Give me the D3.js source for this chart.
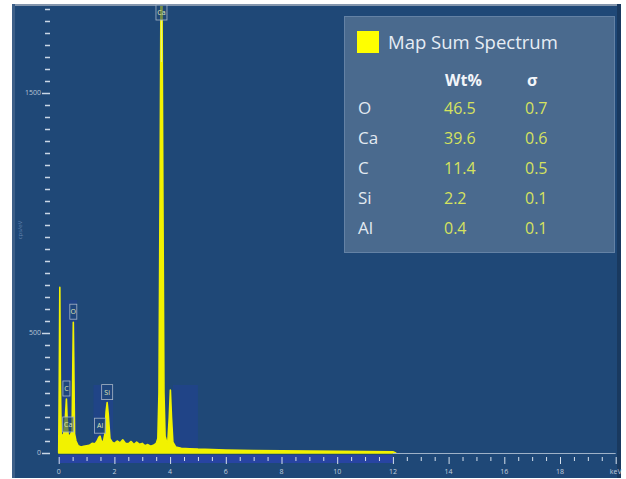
<!DOCTYPE html>
<html>
<head>
<meta charset="utf-8">
<script src="https://cdn.jsdelivr.net/npm/d3@7"></script>
<style>
	body { margin: 0; background: #fff; }
	text { font-family: "Open Sans", "Noto Sans", sans-serif; }
</style>
</head>
<body>
<div id="chart"></div>
<script>
// spectrum: energy (keV) and counts
const energy = [0, 0.02, 0.04, 0.06, 0.09, 0.12, 0.18, 0.24, 0.277, 0.31, 0.341, 0.38, 0.44,
	0.48, 0.51, 0.525, 0.54, 0.57, 0.62, 0.70, 0.80, 0.90, 1.00, 1.10, 1.20, 1.30, 1.38, 1.44,
	1.486, 1.53, 1.60, 1.66, 1.70, 1.74, 1.78, 1.84, 1.92, 2.00, 2.10, 2.20, 2.30, 2.40, 2.50,
	2.60, 2.70, 2.80, 2.90, 3.00, 3.10, 3.20, 3.30, 3.40, 3.50, 3.56, 3.60, 3.64, 3.69, 3.74,
	3.78, 3.82, 3.88, 3.92, 3.97, 4.01, 4.05, 4.10, 4.20, 4.40, 4.70, 5.00, 5.50, 6.00, 6.50,
	7.00, 8.00, 9.00, 10.0, 11.0, 12.0, 12.1];
const counts = [0, 300, 690, 300, 80, 70, 80, 150, 225, 120, 75, 70, 80,
	90, 400, 545, 400, 80, 50, 30, 25, 28, 30, 32, 40, 38, 50, 65,
	70, 50, 45, 80, 170, 210, 160, 60, 45, 40, 50, 42, 55, 40, 38,
	48, 35, 45, 36, 40, 30, 35, 28, 32, 40, 60, 250, 1100, 2400, 1100,
	250, 70, 45, 50, 150, 262, 150, 45, 25, 20, 18, 16, 14, 12, 11,
	10, 9, 8, 7, 6, 5, 0];

// peak labels
const peakNames = ["Ca", "O", "C", "Ca", "Si", "Al"];
const peakEnergy = [3.69, 0.525, 0.277, 0.341, 1.74, 1.486];
const peakCounts = [2400, 545, 225, 75, 210, 70];

// axis ticks
const xLabelValues = [0, 2, 4, 6, 8, 10, 12, 14, 16, 18, 20];
const yLabelValues = [0, 500, 1500];

// quant table
const legendTitle = "Map Sum Spectrum";
const elements = ["O", "Ca", "C", "Si", "Al"];
const wtPct = ["46.5", "39.6", "11.4", "2.2", "0.4"];
const sigma = ["0.7", "0.6", "0.5", "0.1", "0.1"];

const width = 626, height = 479;
const bg = "#1f4877";
const yellow = "#f2f200";

const svg = d3.select("#chart").append("svg")
	.attr("width", width)
	.attr("height", height);

//Panel
svg.append("rect")
	.attr("x", 12).attr("y", 4)
	.attr("width", 609).attr("height", 474)
	.attr("fill", bg);
svg.append("rect")
	.attr("x", 12).attr("y", 4)
	.attr("width", 609).attr("height", 2)
	.attr("fill", "#8496ad");
svg.append("rect")
	.attr("x", 12).attr("y", 4)
	.attr("width", 3).attr("height", 474)
	.attr("fill", "#3d5f88");
svg.append("rect")
	.attr("x", 617).attr("y", 4)
	.attr("width", 4).attr("height", 474)
	.attr("fill", "#19395f");

//Scales
const x = d3.scaleLinear().domain([0, 20]).range([58.7, 615.7]);
const y = d3.scaleLinear().domain([0, 500]).range([453, 333]);

svg.append("clipPath").attr("id", "plotClip")
	.append("rect")
	.attr("x", 50).attr("y", 6)
	.attr("width", 566).attr("height", 454);

const plot = svg.append("g").attr("clip-path", "url(#plotClip)");

//Element marker bands
const bands = [[0.12, 0.66, 300], [1.25, 1.95, 385], [4.1, 5.0, 385]];
plot.selectAll("rect.band")
	.data(bands)
	.enter()
	.append("rect")
	.attr("class", "band")
	.attr("x", d => x(d[0]))
	.attr("y", d => d[2])
	.attr("width", d => x(d[1]) - x(d[0]))
	.attr("height", d => 453 - d[2])
	.attr("fill", "#2436c4")
	.attr("opacity", 0.22);

//Axis strip under the spectrum
svg.append("rect")
	.attr("x", x(0)).attr("y", 455)
	.attr("width", x(12) - x(0)).attr("height", 8)
	.attr("fill", "#2a43ad")
	.attr("opacity", 0.8);
svg.append("line")
	.attr("x1", x(12)).attr("x2", x(20))
	.attr("y1", 453.5).attr("y2", 453.5)
	.attr("stroke", "#9fb2c8")
	.attr("stroke-width", 1);

//Spectrum
const spectrum = energy.map((e, i) => ({e: e, c: counts[i]}));
const area = d3.area()
	.x(d => x(d.e))
	.y0(y(0))
	.y1(d => y(d.c));

plot.append("path")
	.datum(spectrum)
	.attr("d", area)
	.attr("fill", yellow)
	.attr("stroke", yellow)
	.attr("stroke-width", 1.6)
	.attr("stroke-linejoin", "round");

//X axis
const xAxis = d3.axisBottom(x)
	.tickValues(d3.range(0, 41).map(d => d / 2))
	.tickSize(5)
	.tickFormat("");
const xg = svg.append("g")
	.attr("transform", "translate(0,457)")
	.call(xAxis);
xg.select(".domain").remove();
xg.selectAll(".tick line")
	.attr("stroke", "#d6e0ec")
	.attr("stroke-width", 1)
	.attr("y2", d => d % 2 === 0 ? 7 : 4);

svg.selectAll("text.xlabel")
	.data(xLabelValues)
	.enter()
	.append("text")
	.attr("class", "xlabel")
	.attr("x", d => x(d))
	.attr("y", 474)
	.attr("text-anchor", "middle")
	.attr("font-size", 7)
	.attr("fill", "#c3d0df")
	.text(d => d === 20 ? "keV" : d);

//Y axis
const yAxis = d3.axisLeft(y)
	.tickValues(d3.range(0, 1851, 50))
	.tickSize(5)
	.tickFormat("");
const yg = svg.append("g")
	.attr("transform", "translate(50,0)")
	.call(yAxis);
yg.select(".domain").remove();
yg.selectAll(".tick line")
	.attr("stroke", "#c9d6e6")
	.attr("stroke-width", 1.5)
	.attr("x2", d => yLabelValues.includes(d) ? -8 : -5);

svg.selectAll("text.ylabel")
	.data(yLabelValues)
	.enter()
	.append("text")
	.attr("class", "ylabel")
	.attr("x", 41)
	.attr("y", d => y(d))
	.attr("dy", "0.35em")
	.attr("text-anchor", "end")
	.attr("font-size", 7)
	.attr("fill", "#b9c7d8")
	.text(d => d);

svg.append("text")
	.attr("transform", "translate(22,230) rotate(-90)")
	.attr("text-anchor", "middle")
	.attr("font-size", 6)
	.attr("fill", "#5f82ad")
	.text("cps/eV");

//Peak labels
const peaks = peakNames.map((n, i) => ({name: n, e: peakEnergy[i], c: peakCounts[i]}));
const peakG = svg.selectAll("g.peak")
	.data(peaks)
	.enter()
	.append("g")
	.attr("class", "peak")
	.attr("transform", d => "translate(" + x(d.e) + "," + Math.max(y(d.c) - 3, 20) + ")");
// marker line only where the peak runs off the top
peakG.filter(d => y(d.c) - 3 < 20)
	.append("line")
	.attr("x1", 0).attr("x2", 0)
	.attr("y1", 0).attr("y2", 42)
	.attr("stroke", "#e4f3cf")
	.attr("stroke-width", 1.2)
	.attr("opacity", 0.6);
peakG.append("rect")
	.attr("x", d => -(d.name.length * 4 + 3) / 2)
	.attr("y", -15)
	.attr("width", d => d.name.length * 4 + 3)
	.attr("height", 15)
	.attr("fill", bg)
	.attr("fill-opacity", 0.6)
	.attr("stroke", "#a9b6c6")
	.attr("stroke-width", 0.8);
peakG.append("text")
	.attr("y", -5)
	.attr("text-anchor", "middle")
	.attr("font-size", 7)
	.attr("fill", "#dfe6b8")
	.text(d => d.name);

//Quant table
const legend = svg.append("g");
legend.append("rect")
	.attr("x", 344.5).attr("y", 16.5)
	.attr("width", 270).attr("height", 236)
	.attr("fill", "#4a6a8e")
	.attr("stroke", "#6482a5")
	.attr("stroke-width", 1);
legend.append("rect")
	.attr("x", 357).attr("y", 31)
	.attr("width", 22).attr("height", 22)
	.attr("fill", "#ffff00");
legend.append("text")
	.attr("x", 388).attr("y", 49)
	.attr("font-size", 18.5)
	.attr("fill", "#e6edf5")
	.text(legendTitle);

legend.append("text")
	.attr("x", 445).attr("y", 86)
	.attr("font-size", 16)
	.attr("font-weight", "bold")
	.attr("fill", "#f2f5f9")
	.text("Wt%");
legend.append("text")
	.attr("x", 527).attr("y", 86)
	.attr("font-size", 16)
	.attr("font-weight", "bold")
	.attr("fill", "#f2f5f9")
	.text("σ");

const row = d3.scaleBand()
	.domain(elements)
	.range([93, 243]);

const rows = legend.selectAll("g.row")
	.data(elements)
	.enter()
	.append("g")
	.attr("class", "row")
	.attr("transform", d => "translate(0," + (row(d) + row.bandwidth() / 2) + ")");
rows.append("text")
	.attr("x", 358)
	.attr("dy", "0.35em")
	.attr("font-size", 17)
	.attr("fill", "#e2e9f1")
	.text(d => d);
rows.append("text")
	.attr("x", 444)
	.attr("dy", "0.35em")
	.attr("font-size", 16)
	.attr("fill", "#d6e25e")
	.text((d, i) => wtPct[i]);
rows.append("text")
	.attr("x", 525)
	.attr("dy", "0.35em")
	.attr("font-size", 16)
	.attr("fill", "#d6e25e")
	.text((d, i) => sigma[i]);
</script>
</body>
</html>
